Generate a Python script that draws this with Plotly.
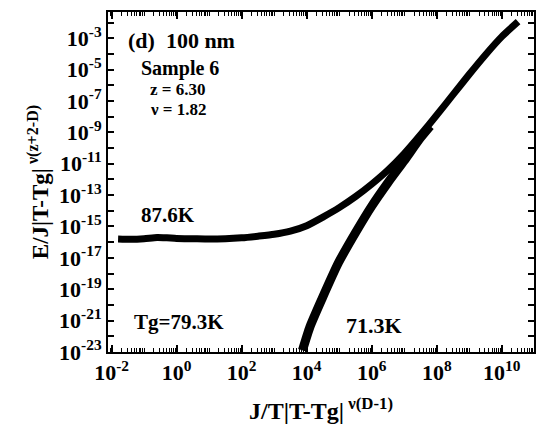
import plotly.graph_objects as go

# ---- data (log10 values) ----
upper_logx = [-1.8, -1.4, -1.0, -0.6, -0.3, 0.0, 0.5, 1.0, 1.5, 2.0, 2.5, 3.0, 3.5, 4.0, 4.5, 5.0,
              5.5, 6.0, 6.5, 7.0, 7.5, 8.0, 8.5, 9.0, 9.5, 10.0, 10.5]
upper_logy = [-15.8, -15.82, -15.78, -15.7, -15.72, -15.76, -15.78, -15.8, -15.78, -15.72, -15.62,
              -15.5, -15.3, -14.95, -14.4, -13.8, -13.1, -12.3, -11.4, -10.35, -9.15, -7.9, -6.6,
              -5.3, -4.05, -2.9, -1.95]
lower_logx = [3.87, 4.1, 4.46, 4.98, 5.5, 6.0, 6.5, 7.0, 7.5, 7.8]
lower_logy = [-22.9, -21.4, -19.66, -17.3, -15.4, -13.7, -12.2, -10.8, -9.35, -8.6]

x_label_exp = list(range(-2, 11, 2))
y_label_exp = list(range(-23, -1, 2))

FONT = "Liberation Serif"
W, H = 538, 431
ML, MR, MT, MB = 108, 2, 12, 79
PW, PH = W - ML - MR, H - MT - MB

def lab(e):
    return f"<b>10<sup>{e}</sup></b>"

fig = go.Figure()
fig.add_trace(go.Scatter(x=[10 ** v for v in upper_logx], y=[10 ** v for v in upper_logy],
                         mode="lines", line=dict(color="black", width=7, shape="spline", smoothing=0.6),
                         showlegend=False))
fig.add_trace(go.Scatter(x=[10 ** v for v in lower_logx], y=[10 ** v for v in lower_logy],
                         mode="lines", line=dict(color="black", width=9, shape="spline", smoothing=0.6),
                         showlegend=False))

ann = [
    ("<b>(d)  100 nm</b>", 182, 40, 22),
    ("<b>Sample 6</b>", 180, 68, 20),
    ("<b>z = 6.30</b>", 178, 90, 17),
    ("<b>ν = 1.82</b>", 179, 109, 17),
    ("<b>87.6K</b>", 168, 215, 21),
    ("<b>Tg=79.3K</b>", 179, 322, 21),
    ("<b>71.3K</b>", 375, 325, 22),
]
for t, px, py, fs in ann:
    fig.add_annotation(text=t, x=(px - ML) / PW, y=1 - (py - MT) / PH, xref="paper", yref="paper",
                       showarrow=False, font=dict(family=FONT, size=fs, color="black"),
                       xanchor="center", yanchor="middle")

fig.update_layout(
    width=W, height=H, plot_bgcolor="white", paper_bgcolor="white",
    margin=dict(l=ML, r=MR, t=MT, b=MB),
    font=dict(family=FONT, color="black"),
    xaxis_title=dict(text="<b>J/T|T-Tg|<sup> ν(D-1)</sup></b>", font=dict(size=24), standoff=18),
    yaxis_title=dict(text="<b>E/J|T-Tg|<sup> ν(z+2-D)</sup></b>", font=dict(size=23), standoff=4),
)
x_minor = [m * 10 ** n for n in range(-3, 11) for m in range(2, 10)] + \
          [10 ** e for e in range(-1, 11, 2)]
fig.update_xaxes(type="log", range=[-2.11, 10.99], showgrid=False, zeroline=False,
                 showline=True, linecolor="black", linewidth=2, mirror="allticks",
                 ticks="inside", ticklen=7, tickwidth=1.5, tickcolor="black",
                 tickmode="array", tickvals=[10 ** e for e in x_label_exp],
                 ticktext=[lab(e) for e in x_label_exp],
                 tickfont=dict(family=FONT, size=22, color="black"),
                 minor=dict(ticks="inside", ticklen=4, tickcolor="black", tickwidth=1,
                            tickmode="array", tickvals=x_minor))
fig.update_yaxes(type="log", range=[-23.0, -1.33], showgrid=False, zeroline=False,
                 showline=True, linecolor="black", linewidth=2, mirror="allticks",
                 ticks="inside", ticklen=6, tickwidth=1.5, tickcolor="black",
                 tickmode="array", tickvals=[10 ** e for e in y_label_exp],
                 ticktext=[lab(e) for e in y_label_exp],
                 tickfont=dict(family=FONT, size=22, color="black"),
                 minor=dict(ticks="inside", ticklen=6, tickcolor="black", tickwidth=1.5,
                            tickmode="array", tickvals=[10 ** e for e in range(-22, -1, 2)]))

fig.write_html("out.html")
